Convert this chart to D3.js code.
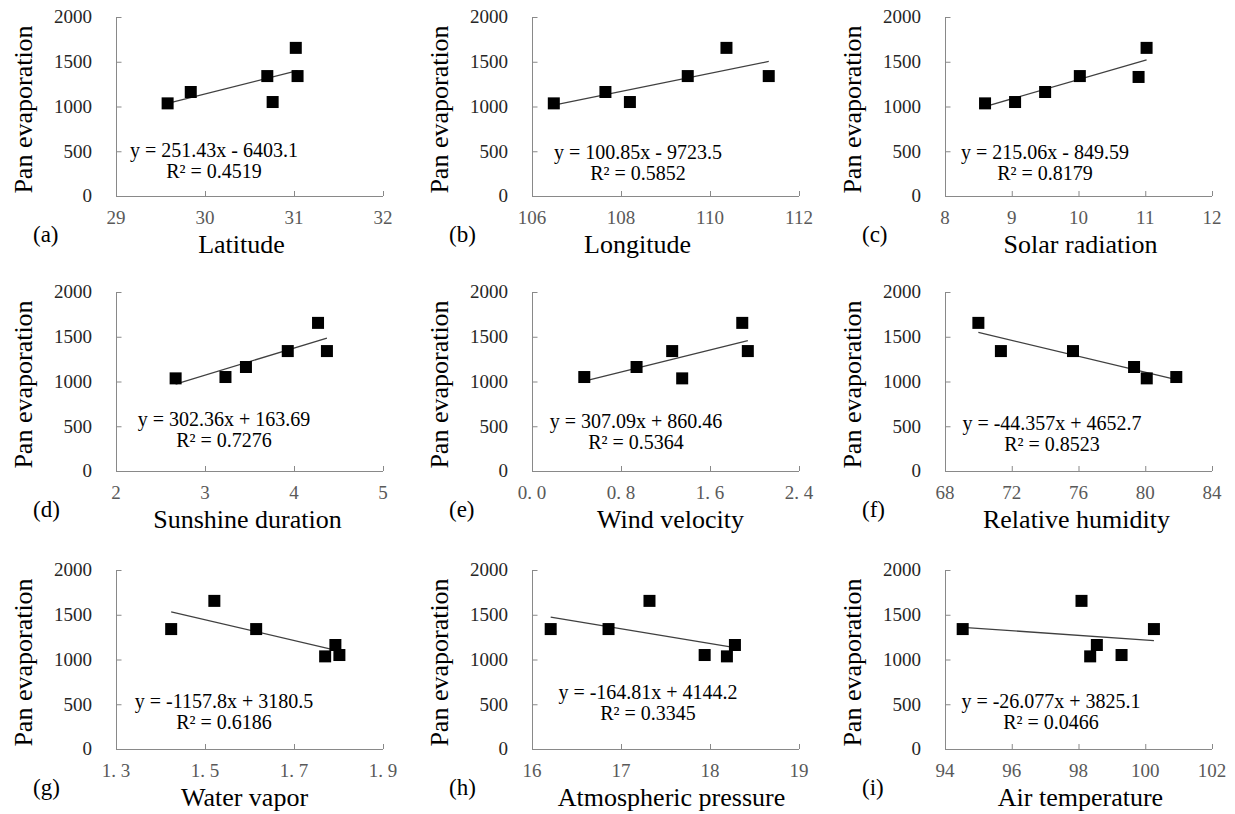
<!DOCTYPE html>
<html>
<head>
<meta charset="utf-8">
<script src="https://cdn.jsdelivr.net/npm/d3@7"></script>
<style>
  body { margin: 0; background: #fff; }
  svg { display: block; }
</style>
</head>
<body>
<script>
// ---- data ----
const panelLetters = ["(a)", "(b)", "(c)", "(d)", "(e)", "(f)", "(g)", "(h)", "(i)"];
const xTitles = ["Latitude", "Longitude", "Solar radiation", "Sunshine duration", "Wind velocity",
                 "Relative humidity", "Water vapor", "Atmospheric pressure", "Air temperature"];
const yTitle = "Pan evaporation";

const xDomains = [[29, 32], [106, 112], [8, 12], [2, 5], [0, 2.4], [68, 84], [1.3, 1.9], [16, 19], [94, 102]];
const xTickValues = [
  [29, 30, 31, 32], [106, 108, 110, 112], [8, 9, 10, 11, 12], [2, 3, 4, 5], [0, 0.8, 1.6, 2.4],
  [68, 72, 76, 80, 84], [1.3, 1.5, 1.7, 1.9], [16, 17, 18, 19], [94, 96, 98, 100, 102]
];
const xTickLabels = [
  ["29", "30", "31", "32"], ["106", "108", "110", "112"], ["8", "9", "10", "11", "12"], ["2", "3", "4", "5"],
  ["0. 0", "0. 8", "1. 6", "2. 4"], ["68", "72", "76", "80", "84"], ["1. 3", "1. 5", "1. 7", "1. 9"],
  ["16", "17", "18", "19"], ["94", "96", "98", "100", "102"]
];
const yDomain = [0, 2000];
const yTicks = [0, 500, 1000, 1500, 2000];

const xValues = [
  [29.58, 29.84, 30.70, 30.76, 31.02, 31.04],
  [106.49, 107.65, 108.20, 109.50, 110.37, 111.32],
  [8.60, 9.05, 9.50, 10.02, 10.90, 11.02],
  [2.67, 3.23, 3.46, 3.93, 4.27, 4.37],
  [0.47, 0.94, 1.26, 1.35, 1.89, 1.94],
  [70.0, 71.35, 75.67, 79.33, 80.09, 81.86],
  [1.424, 1.521, 1.615, 1.770, 1.793, 1.802],
  [16.21, 16.86, 17.32, 17.94, 18.19, 18.28],
  [94.53, 98.09, 98.35, 98.55, 99.29, 100.26]
];
const yValues = [
  [1035, 1162, 1340, 1050, 1655, 1340],
  [1035, 1162, 1050, 1340, 1655, 1340],
  [1035, 1050, 1162, 1340, 1330, 1655],
  [1035, 1050, 1162, 1340, 1655, 1340],
  [1050, 1162, 1340, 1035, 1655, 1340],
  [1655, 1340, 1340, 1162, 1035, 1050],
  [1340, 1655, 1340, 1035, 1162, 1050],
  [1340, 1340, 1655, 1050, 1035, 1162],
  [1340, 1655, 1035, 1162, 1050, 1340]
];
const slopes     = [251.43, 100.85, 215.06, 302.36, 307.09, -44.357, -1157.8, -164.81, -26.077];
const intercepts = [-6403.1, -9723.5, -849.59, 163.69, 860.46, 4652.7, 3180.5, 4144.2, 3825.1];
const rSquared   = ["0.4519", "0.5852", "0.8179", "0.7276", "0.5364", "0.8523", "0.6186", "0.3345", "0.0466"];

// ---- layout ----
const W = 1235, H = 814;
const colX = [116, 532, 945];
const rowY = [17, 292, 570];
const plotW = 267, plotH = 179;
// equation label centre x and baseline y, relative to the plot's top-left corner
const labelPos = [[98, 140], [106, 142], [100, 142], [108, 134], [104, 136], [107, 138], [108, 138], [116, 129], [106, 138]];
const titleDx = [-8, -28, 2, -2, 5, -2, -5, 6, 2];

const serif = "'Liberation Serif', 'Times New Roman', 'DejaVu Serif', serif";
const axisColor = "#898989";

const svg = d3.select("body").append("svg")
  .attr("width", W).attr("height", H)
  .attr("xmlns", "http://www.w3.org/2000/svg");

svg.append("rect").attr("width", W).attr("height", H).attr("fill", "#fff");

panelLetters.forEach((letter, i) => {
  const x0 = colX[i % 3];
  const y0 = rowY[Math.floor(i / 3)];

  const x = d3.scaleLinear().domain(xDomains[i]).range([0, plotW]);
  const y = d3.scaleLinear().domain(yDomain).range([plotH, 0]);

  const g = svg.append("g").attr("transform", `translate(${x0},${y0})`);

  // y axis (ticks pointing inside)
  const yAxis = g.append("g")
    .call(d3.axisRight(y).tickValues(yTicks).tickSize(5).tickFormat(""));
  yAxis.select(".domain").attr("d", `M0.5,0V${plotH}`);
  yAxis.selectAll("line").attr("x1", 0);
  yAxis.selectAll("path, line").attr("stroke", axisColor);
  yAxis.selectAll(".tick line").attr("transform", "translate(0.5,0)");

  g.selectAll("text.ytick")
    .data(yTicks)
    .join("text")
      .attr("class", "ytick")
      .attr("x", -24)
      .attr("y", d => y(d))
      .attr("dy", "0.34em")
      .attr("text-anchor", "end")
      .attr("font-family", serif)
      .attr("font-size", 19)
      .attr("fill", "#262626")
      .text(d => d);

  // x axis (ticks pointing up)
  const xAxis = g.append("g")
    .attr("transform", `translate(0,${plotH})`)
    .call(d3.axisTop(x).tickValues(xTickValues[i]).tickSize(5).tickFormat(""));
  xAxis.select(".domain").attr("d", `M0,0.5H${plotW}`);
  xAxis.selectAll("path, line").attr("stroke", axisColor);

  g.selectAll("text.xtick")
    .data(xTickValues[i])
    .join("text")
      .attr("class", "xtick")
      .attr("x", d => x(d))
      .attr("y", plotH + 28)
      .attr("text-anchor", "middle")
      .attr("font-family", serif)
      .attr("font-size", 19)
      .attr("fill", "#595959")
      .text((d, k) => xTickLabels[i][k]);

  // trendline over the data range
  const [xmin, xmax] = d3.extent(xValues[i]);
  const fit = v => slopes[i] * v + intercepts[i];
  g.append("line")
    .attr("x1", x(xmin)).attr("y1", y(fit(xmin)))
    .attr("x2", x(xmax)).attr("y2", y(fit(xmax)))
    .attr("stroke", "#404040")
    .attr("stroke-width", 1.3);

  // markers
  const s = 12;
  g.selectAll("rect.pt")
    .data(d3.zip(xValues[i], yValues[i]))
    .join("rect")
      .attr("class", "pt")
      .attr("x", d => x(d[0]) - s / 2)
      .attr("y", d => y(d[1]) - s / 2)
      .attr("width", s).attr("height", s)
      .attr("fill", "#000");

  // equation + R²
  const [lx, ly] = labelPos[i];
  const sign = intercepts[i] < 0 ? "-" : "+";
  g.append("text")
    .attr("x", lx).attr("y", ly)
    .attr("text-anchor", "middle")
    .attr("font-family", serif).attr("font-size", 20).attr("fill", "#000")
    .text(`y = ${slopes[i]}x ${sign} ${Math.abs(intercepts[i])}`);
  g.append("text")
    .attr("x", lx).attr("y", ly + 21)
    .attr("text-anchor", "middle")
    .attr("font-family", serif).attr("font-size", 20).attr("fill", "#000")
    .text(`R² = ${rSquared[i]}`);

  // axis titles
  g.append("text")
    .attr("x", plotW / 2 + titleDx[i])
    .attr("y", plotH + 57)
    .attr("text-anchor", "middle")
    .attr("font-family", serif).attr("font-size", 26).attr("fill", "#000")
    .text(xTitles[i]);

  g.append("text")
    .attr("transform", `translate(-84,${plotH / 2 + 3}) rotate(-90)`)
    .attr("text-anchor", "middle")
    .attr("font-family", serif).attr("font-size", 26).attr("fill", "#000")
    .text(yTitle);

  // panel letter
  g.append("text")
    .attr("x", -83)
    .attr("y", plotH + 46)
    .attr("font-family", serif).attr("font-size", 23).attr("fill", "#000")
    .text(letter);
});
</script>
</body>
</html>
